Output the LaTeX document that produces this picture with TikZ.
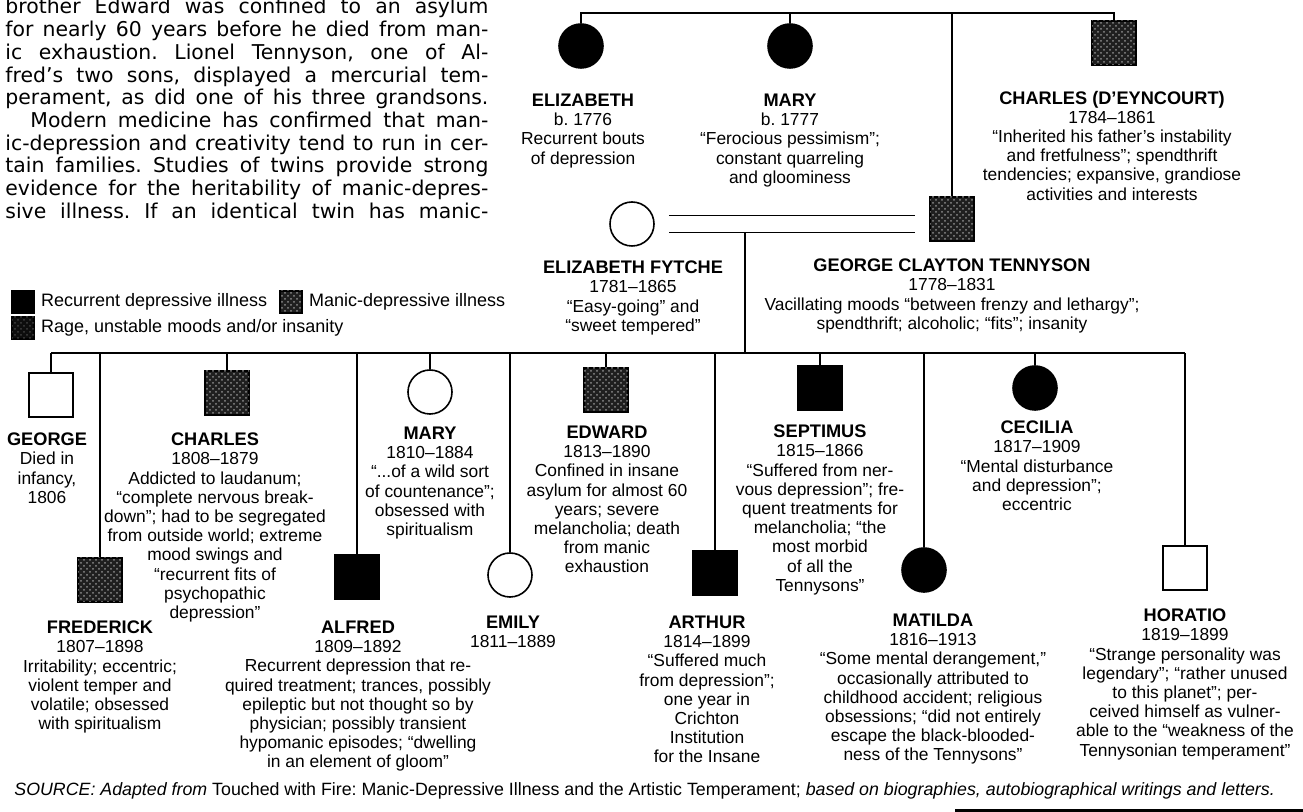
\documentclass[tikz,border=0pt]{standalone}
\usepackage{fontspec}
\setmainfont{Liberation Sans}
\newfontfamily\colfont{DejaVu Sans}
\usetikzlibrary{positioning,patterns}
\newcommand\persname[1]{{\fontsize{9.1}{9.6}\selectfont\bfseries #1}}
\frenchspacing

\begin{document}
\begin{tikzpicture}[x=0.5pt,y=-0.5pt,
  sym/.style={draw,line width=0.8pt,minimum size=22pt,inner sep=0pt},
  fem/.style={sym,circle},
  mal/.style={sym,rectangle},
  dep/.style={fill=black},
  manic/.style={fill=black!88,postaction={pattern=crosshatch dots,pattern color=black!45}},
  rage/.style={fill=black!95,postaction={pattern=crosshatch dots,pattern color=black!75}},
  info/.style={align=center,inner sep=0pt,anchor=north,font=\fontsize{8.7}{9.6}\selectfont},
  keytext/.style={inner sep=0pt,font=\fontsize{9}{10}\selectfont},
  link/.style={line width=0.75pt}]

\useasboundingbox (0,0) rectangle (1303,812);
\clip (0,0) rectangle (1303,812);

% column text
\foreach \ln [count=\i from 0] in {
  {brother Edward was confined to an asylum},
  {for nearly 60 years before he died from man-},
  {ic exhaustion. Lionel Tennyson, one of Al-},
  {fred’s two sons, displayed a mercurial tem-},
  {perament, as did one of his three grandsons.},
  {\hspace*{12.5pt}Modern medicine has confirmed that man-},
  {ic-depression and creativity tend to run in cer-},
  {tain families. Studies of twins provide strong},
  {evidence for the heritability of manic-depres-},
  {sive illness. If an identical twin has manic-}}
  \node[anchor=base west,inner sep=0pt,font=\colfont\fontsize{10.2}{11}\selectfont] (col\i)
    at (5,{14+22.7*\i}) {\makebox[241.5pt][s]{\ln}};

% key
\node[mal,dep,minimum size=11pt] (keyDep) at (23,302) {};
\node[keytext,right=3pt of keyDep] (keyDepT) {Recurrent depressive illness};
\node[mal,manic,minimum size=11pt] (keyMan) at (291,302) {};
\node[keytext,right=3pt of keyMan] (keyManT) {Manic-depressive illness};
\node[mal,rage,minimum size=11pt] (keyRage) at (23,328) {};
\node[keytext,right=3pt of keyRage] (keyRageT) {Rage, unstable moods and/or insanity};

% grandparents' children
\node[fem,dep] (eliz) at (581,46) {};
\node[fem,dep] (maryA) at (790,46) {};
\node[mal,manic] (cdey) at (1114,43) {};
\node[mal,manic] (gct) at (952,219) {};
\node[fem] (fytche) at (632,224) {};

\coordinate (top) at (750,13);
\draw[link] (eliz.north) |- (top) -| (cdey.north);
\draw[link] (maryA.north) -- (maryA.north |- top);
\draw[link] (gct.north) -- (gct.north |- top);

\draw[link,double distance=7.75pt,shorten <=7pt,shorten >=7pt] (fytche.east) -- (fytche.east -| gct.west);

% children
\node[mal] (george) at (51,395) {};
\node[mal,manic] (frederick) at (100,580) {};
\node[mal,manic] (charles) at (227,393) {};
\node[mal,dep] (alfred) at (357,577) {};
\node[fem] (mary) at (430,392) {};
\node[fem] (emily) at (510,575) {};
\node[mal,manic] (edward) at (606,390) {};
\node[mal,dep] (arthur) at (715,573) {};
\node[mal,dep] (septimus) at (820,388) {};
\node[fem,dep] (matilda) at (924,570) {};
\node[fem,dep] (cecilia) at (1035,388) {};
\node[mal] (horatio) at (1185,568) {};

\coordinate (sib) at (745,353);
\path (fytche.east) ++(0,8.5) coordinate (fyLow);
\draw[link] (fyLow -| sib) -- (sib);
\draw[link] (george.north |- sib) -- (horatio.north |- sib);
\foreach \k in {george,frederick,charles,alfred,mary,emily,edward,arthur,septimus,matilda,cecilia,horatio}
  \draw[link] (\k.north) -- (\k.north |- sib);

% labels
\node[info] (tEliz) at (583,93.5) {\persname{ELIZABETH}\\b. 1776\\Recurrent bouts\\of depression};
\node[info] (tMaryA) at (790,93.5) {\persname{MARY}\\b. 1777\\“Ferocious pessimism”;\\constant quarreling\\and gloominess};
\node[info] (tCdey) at (1112,90.5) {\persname{CHARLES (D’EYNCOURT)}\\1784–1861\\“Inherited his father’s instability\\and fretfulness”; spendthrift\\tendencies; expansive, grandiose\\activities and interests};
\node[info] (tFytche) at (633,260.5) {\persname{ELIZABETH FYTCHE}\\1781–1865\\“Easy-going” and\\“sweet tempered”};
\node[info] (tGct) at (952,258.5) {\persname{GEORGE CLAYTON TENNYSON}\\1778–1831\\Vacillating moods “between frenzy and lethargy”;\\spendthrift; alcoholic; “fits”; insanity};

\node[info] (tGeorge) at (47,432.5) {\persname{GEORGE}\\Died in\\infancy,\\1806};
\node[info] (tCharles) at (215,432.5) {\persname{CHARLES}\\1808–1879\\Addicted to laudanum;\\“complete nervous break-\\down”; had to be segregated\\from outside world; extreme\\mood swings and\\“recurrent fits of\\psychopathic\\depression”};
\node[info] (tMary) at (430,426.5) {\persname{MARY}\\1810–1884\\“...of a wild sort\\of countenance”;\\obsessed with\\spiritualism};
\node[info] (tEdward) at (607,425.5) {\persname{EDWARD}\\1813–1890\\Confined in insane\\asylum for almost 60\\years; severe\\melancholia; death\\from manic\\exhaustion};
\node[info] (tSeptimus) at (820,424.5) {\persname{SEPTIMUS}\\1815–1866\\“Suffered from ner-\\vous depression”; fre-\\quent treatments for\\melancholia; “the\\most morbid\\of all the\\Tennysons”};
\node[info] (tCecilia) at (1037,420.5) {\persname{CECILIA}\\1817–1909\\“Mental disturbance\\and depression”;\\eccentric};

\node[info] (tFrederick) at (100,620.5) {\persname{FREDERICK}\\1807–1898\\Irritability; eccentric;\\violent temper and\\volatile; obsessed\\with spiritualism};
\node[info] (tAlfred) at (358,620.5) {\persname{ALFRED}\\1809–1892\\Recurrent depression that re-\\quired treatment; trances, possibly\\epileptic but not thought so by\\physician; possibly transient\\hypomanic episodes; “dwelling\\in an element of gloom”};
\node[info] (tEmily) at (513,615.5) {\persname{EMILY}\\1811–1889};
\node[info] (tArthur) at (707,615.5) {\persname{ARTHUR}\\1814–1899\\“Suffered much\\from depression”;\\one year in\\Crichton\\Institution\\for the Insane};
\node[info] (tMatilda) at (933,613.5) {\persname{MATILDA}\\1816–1913\\“Some mental derangement,”\\occasionally attributed to\\childhood accident; religious\\obsessions; “did not entirely\\escape the black-blooded-\\ness of the Tennysons”};
\node[info] (tHoratio) at (1185,608.5) {\persname{HORATIO}\\1819–1899\\“Strange personality was\\legendary”; “rather unused\\to this planet”; per-\\ceived himself as vulner-\\able to the “weakness of the\\Tennysonian temperament”};

\node[anchor=base west,inner sep=0pt,font=\fontsize{8.9}{10}\selectfont] (source) at (14,796)
  {\textit{SOURCE: Adapted from} Touched with Fire: Manic-Depressive Illness and the Artistic Temperament; \textit{based on biographies, autobiographical writings and letters.}};

\draw[line width=2pt] (955,811) -- (1303,811);

\end{tikzpicture}
\end{document}
